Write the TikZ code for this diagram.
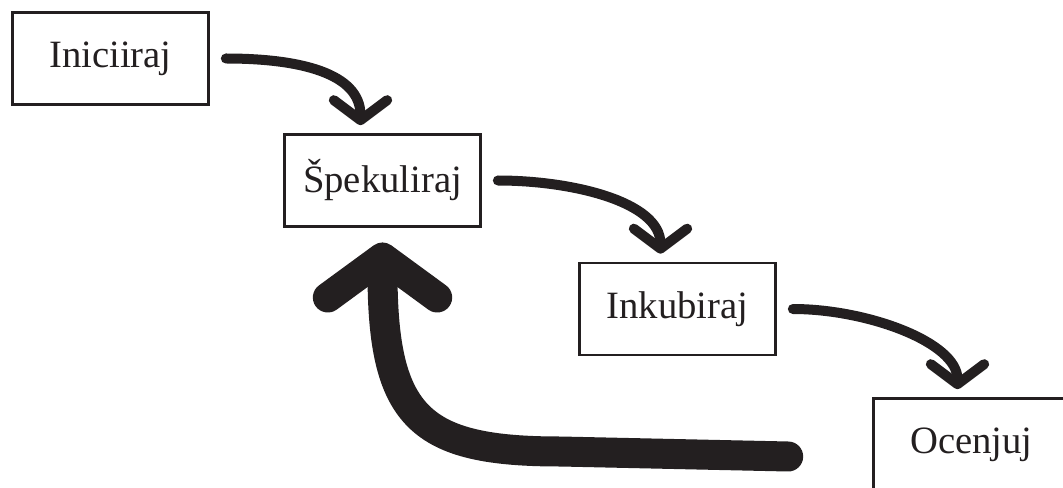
\documentclass[tikz,border=0pt]{standalone}
\usepackage{fontspec}
\setmainfont{Liberation Serif}
\usetikzlibrary{calc}
\usetikzlibrary{arrows.meta}

\definecolor{drawblack}{HTML}{231F20}

\tikzset{
  stage/.style={draw=drawblack, line width=2pt, minimum width=147pt, minimum height=69pt,
    inner sep=0pt, text=drawblack, font=\fontsize{29}{35}\selectfont},
  next arrow/.style={draw=drawblack, line width=7.5pt, line cap=round, line join=round,
    -{Straight Barb[round,length=15pt,width=40pt]}, shorten <=12pt, shorten >=6pt},
  back arrow/.style={draw=drawblack, line width=22.5pt, line cap=round, line join=round,
    -{Straight Barb[round,length=30pt,width=82pt]}, shorten >=11pt}
}

\begin{document}
\begin{tikzpicture}[x=0.75pt,y=-0.75pt]
\useasboundingbox (0,0) rectangle (1063,488);

% the four steps
\node[stage] (inic) at (110.5,58.5) {Iniciiraj};
\node[stage] (spek) at (382.5,180.5) {Špekuliraj};
\node[stage] (inku) at (677.5,309) {Inkubiraj};
\node[stage] (ocen) at (971.5,444.5) {Ocenjuj};

% forward arrows
\draw[next arrow] (inic.east) .. controls +(90,0) and +(0,-60) .. ($(spek.north)+(-22,0)$);
\draw[next arrow] (spek.east) .. controls +(90,0) and +(0,-60) .. ($(inku.north)+(-17,0)$);
\draw[next arrow] (inku.east) .. controls +(90,0) and +(0,-55) .. ($(ocen.north)+(-14,0)$);

% back to Špekuliraj
\coordinate (tail) at ($(ocen.west)+(-84,12)$);
\draw[back arrow] (tail) -- ++(-228,-5) .. controls +(-140,0) and +(0,190) .. (spek.south);
\end{tikzpicture}
\end{document}
